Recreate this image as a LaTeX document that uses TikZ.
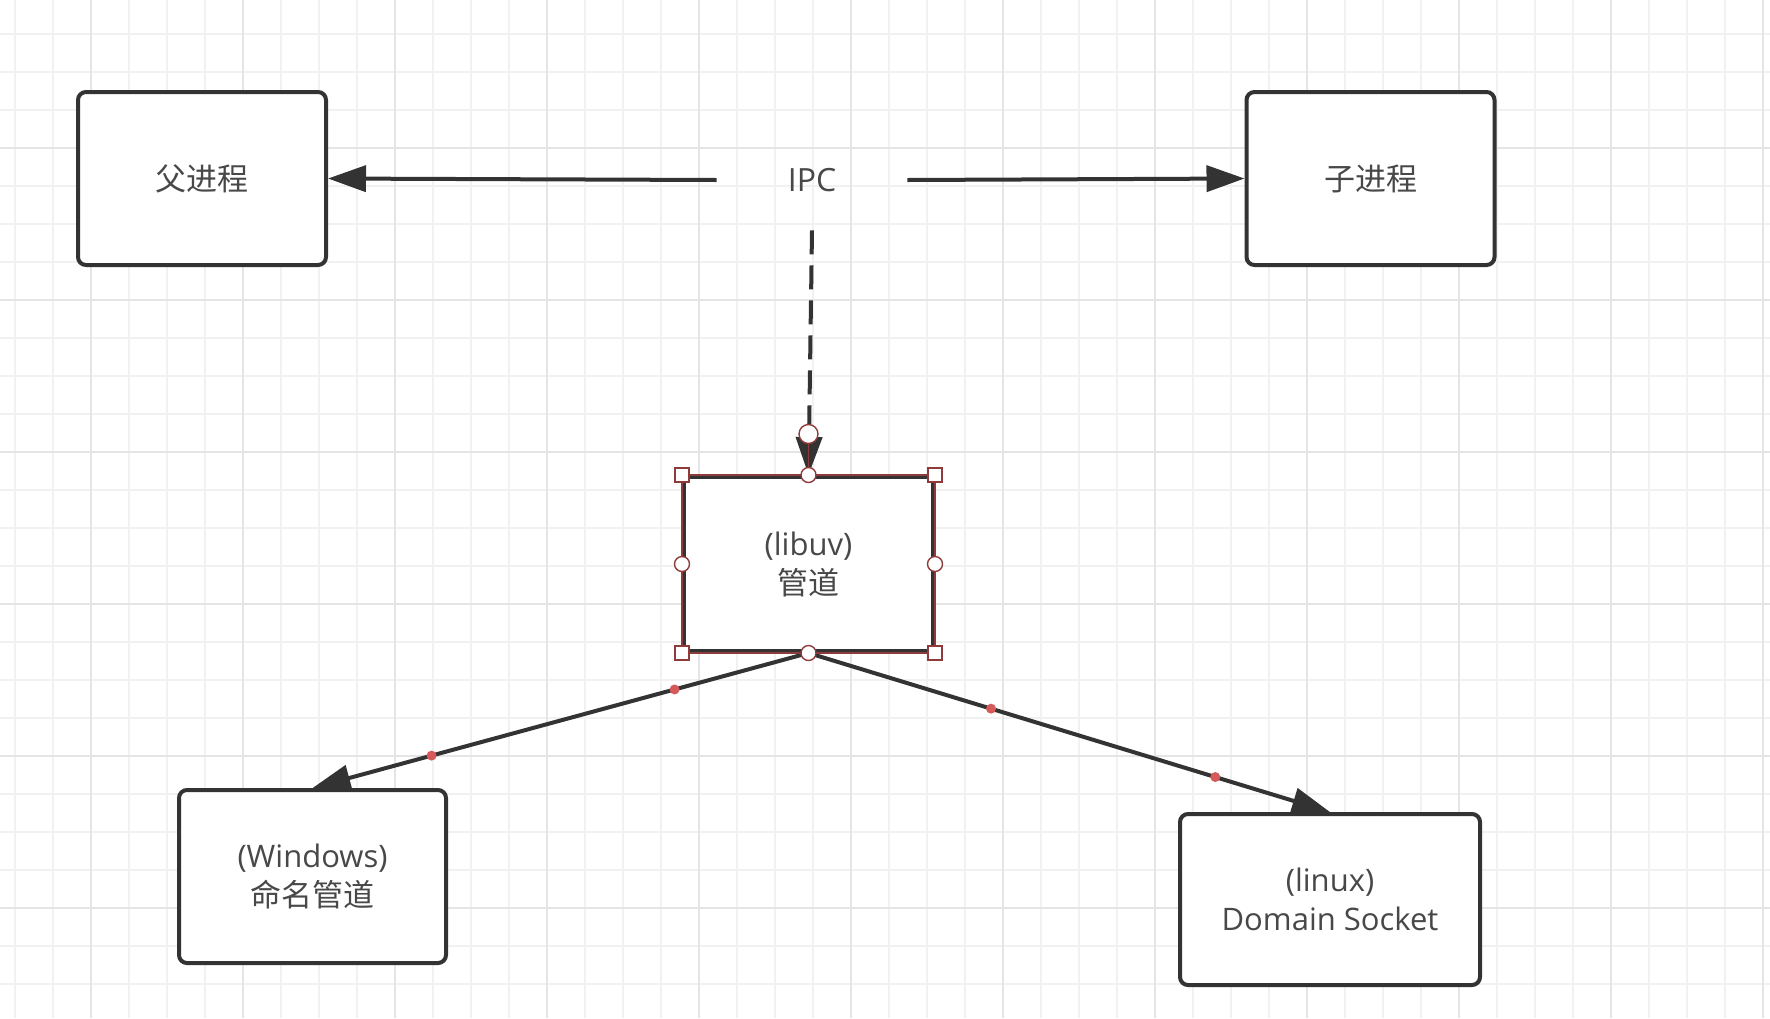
\documentclass[tikz,border=0pt]{standalone}
\usepackage{fontspec}
\setmainfont{Open Sans}
\newfontfamily\cjk{Noto Sans CJK SC}
\usetikzlibrary{arrows.meta}
\definecolor{ink}{HTML}{333333}
\definecolor{txt}{HTML}{484848}
\definecolor{gridminor}{HTML}{F1F1F1}
\definecolor{gridmajor}{HTML}{E5E5E5}
\definecolor{selred}{HTML}{8E3B3B}
\definecolor{dotred}{HTML}{D65A5A}
\tikzset{
  proc/.style={draw=ink,line width=2pt,rounded corners=4pt,fill=white,text=txt,align=center,
    inner sep=0pt,minimum width=124pt,minimum height=86.5pt,font=\fontsize{15.5pt}{19.5pt}\selectfont},
  conn/.style={draw=ink,line width=2pt,-{Triangle[length=19pt,width=13pt]}},
  sqhandle/.style={draw=selred,fill=white,line width=0.7pt,inner sep=0pt,minimum size=7pt},
  cirhandle/.style={circle,draw=selred,fill=white,line width=0.7pt,inner sep=0pt,minimum size=7.5pt},
  waydot/.style={circle,fill=dotred,inner sep=0pt,minimum size=5pt}
}
\begin{document}
\begin{tikzpicture}[x=0.5pt,y=-0.5pt]
  \useasboundingbox (0,0) rectangle (1770,1018);
  % grid
  \foreach \x in {15,53,...,1770} \draw[gridminor,line width=0.75pt] (\x,0) -- (\x,1018);
  \foreach \y in {34,72,...,1018} \draw[gridminor,line width=0.75pt] (0,\y) -- (1770,\y);
  \foreach \x in {91,243,...,1770} \draw[gridmajor,line width=0.75pt] (\x,0) -- (\x,1018);
  \foreach \y in {148,300,...,1018} \draw[gridmajor,line width=0.75pt] (0,\y) -- (1770,\y);
  % processes
  \node[proc] (parent) at (202,178.5) {\cjk 父进程};
  \node[proc] (child) at (1370.5,178.5) {\cjk 子进程};
  \node[text=txt,font=\fontsize{16pt}{19pt}\selectfont,minimum width=95pt,minimum height=50pt,inner sep=0pt] (ipc) at (812,180) {IPC};
  \node[proc,rounded corners=0pt,minimum width=124.5pt,minimum height=87pt] (pipe) at (808.5,564) {(libuv)\\{\cjk 管道}};
  \node[proc,minimum width=133.5pt] (win) at (312.5,876.5) {(Windows)\\{\cjk 命名管道}};
  \node[proc,minimum width=150pt,minimum height=85.5pt] (linux) at (1330,899.5) {(linux)\\Domain Socket};
  % connectors
  \draw[conn] (ipc.west) -- (parent.east);
  \draw[conn] (ipc.east) -- (child.west);
  \draw[conn,dash pattern=on 12pt off 5.5pt] (ipc.south) -- (pipe.north);
  \draw[conn] (pipe.south) -- node[waydot,pos=0.27] (w1) {} node[waydot,pos=0.76] (w2) {} (win.north);
  \draw[conn] (pipe.south) -- node[waydot,pos=0.35] (l1) {} node[waydot,pos=0.78] (l2) {} (linux.north);
  % selection handles
  \draw[selred,line width=0.7pt] (pipe.north west) rectangle (pipe.south east);
  \node[cirhandle,minimum size=9.5pt] (tip) at ([yshift=20.5pt]pipe.north) {};
  \draw[selred,line width=0.7pt] (tip) -- (pipe.north);
  \foreach \a/\n in {north west/c1,north east/c2,south west/c3,south east/c4}
    \node[sqhandle] (\n) at (pipe.\a) {};
  \foreach \a/\n in {north/m1,south/m2,west/m3,east/m4}
    \node[cirhandle] (\n) at (pipe.\a) {};
\end{tikzpicture}
\end{document}
